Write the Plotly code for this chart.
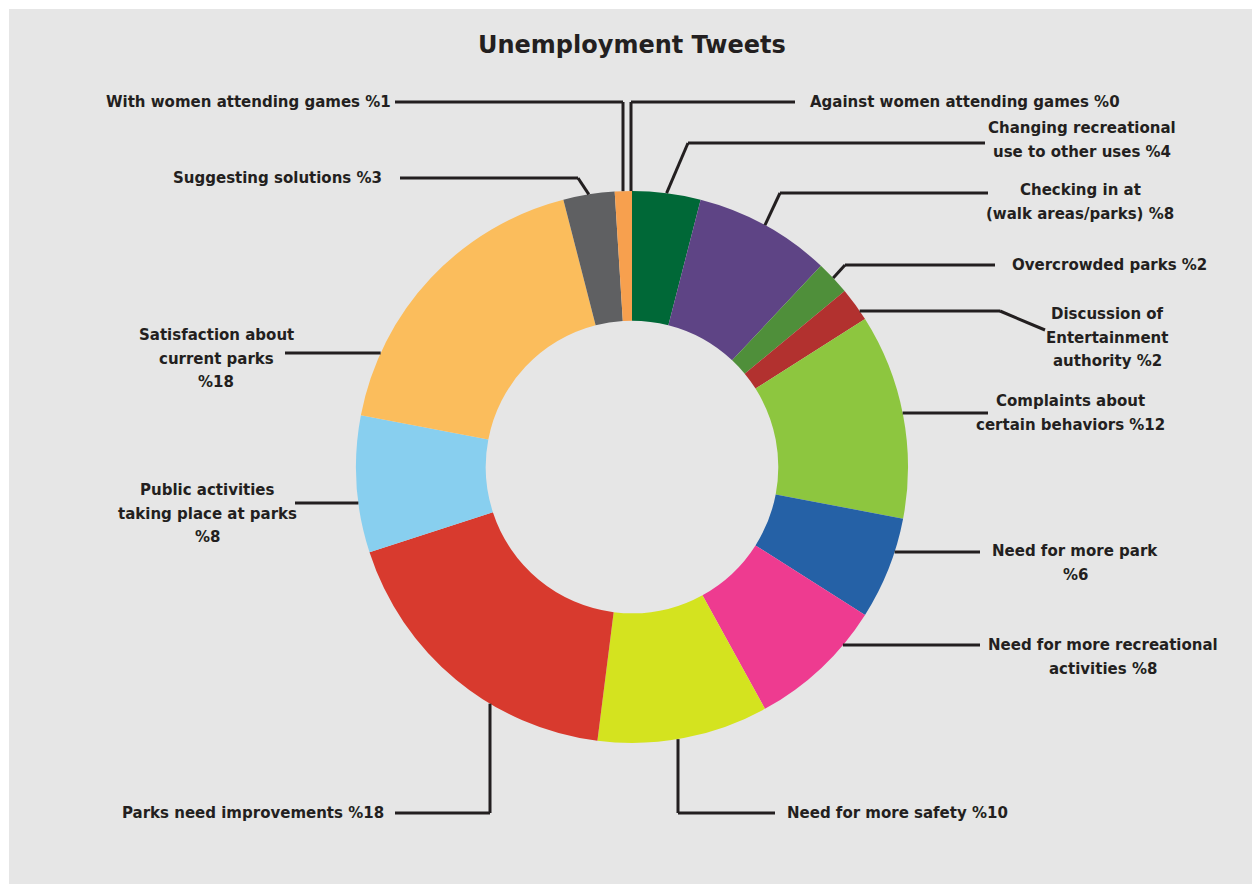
import math
import plotly.graph_objects as go

# ---------------- data ----------------
categories = [
    "Against women attending games",
    "Changing recreational<br>use to other uses",
    "Checking in at<br>(walk areas/parks)",
    "Overcrowded parks",
    "Discussion of<br>Entertainment<br>authority",
    "Complaints about<br>certain behaviors",
    "Need for more park<br>",
    "Need for more recreational<br>activities",
    "Need for more safety",
    "Parks need improvements",
    "Public activities<br>taking place at parks<br>",
    "Satisfaction about<br>current parks<br>",
    "Suggesting solutions",
    "With women attending games",
]
values = [0, 4, 8, 2, 2, 12, 6, 8, 10, 18, 8, 18, 3, 1]
colors = ["#006837", "#006837", "#5e4485", "#4f8f3a", "#b2312f", "#8dc63f",
          "#2561a6", "#ee3b90", "#d4e31f", "#d83a2e", "#88cfef", "#fbbd5c",
          "#5f6062", "#f7a04e"]

title_text = "Unemployment Tweets"

# ---------------- layout geometry (pixels) ----------------
W, H = 1252, 884
CX, CY, R = 632, 467, 276
HOLE = 0.53
INK = "#231f20"
BG = "#e6e6e6"
LINE_GAP = 23.5
FONT = "DejaVu Sans"


def px(x):
    return x / W


def py(y):
    return 1 - y / H


total = sum(values)
cum = 0
mid_angles = []
for v in values:
    mid_angles.append((cum + v / 2) / total * 360)
    cum += v


def mid_point(i):
    a = math.radians(mid_angles[i])
    return (CX + R * math.sin(a), CY - R * math.cos(a))


def circ_x(y, side):
    d = math.sqrt(max(R * R - (y - CY) ** 2, 0))
    return CX + side * d


def circ_y(x, side):
    d = math.sqrt(max(R * R - (x - CX) ** 2, 0))
    return CY + side * d


# label placement: text x, first-line y, anchor, leader points after the pie anchor
placements = {
    0: dict(tx=808, ty=102, xa="left", anchor=("v", 631, -1), pts=[(631, 102), (795, 102)]),
    1: dict(tx=1082, ty=128, xa="center", anchor=("mid",), pts=[(688, 143), (985, 143)]),
    2: dict(tx=1080, ty=190, xa="center", anchor=("mid",), pts=[(780, 193), (988, 193)]),
    3: dict(tx=1010, ty=265, xa="left", anchor=("mid",), pts=[(845, 265), (995, 265)]),
    4: dict(tx=1107, ty=314, xa="center", anchor=("h", 311, 1), pts=[(1000, 311), (1045, 330)]),
    5: dict(tx=1070, ty=401, xa="center", anchor=("h", 413, 1), pts=[(988, 413)]),
    6: dict(tx=1075, ty=551, xa="center", anchor=("h", 552, 1), pts=[(980, 552)]),
    7: dict(tx=1103, ty=645, xa="center", anchor=("h", 645, 1), pts=[(980, 645)]),
    8: dict(tx=785, ty=813, xa="left", anchor=("v", 678, 1), pts=[(678, 813), (775, 813)]),
    9: dict(tx=386, ty=813, xa="right", anchor=("v", 490, 1), pts=[(490, 813), (395, 813)]),
    10: dict(tx=207, ty=490, xa="center", anchor=("h", 503, -1), pts=[(295, 503)]),
    11: dict(tx=216, ty=335, xa="center", anchor=("h", 353, -1), pts=[(285, 353)]),
    12: dict(tx=384, ty=178, xa="right", anchor=("mid",), pts=[(578, 178), (400, 178)]),
    13: dict(tx=393, ty=102, xa="right", anchor=("v", 623, -1), pts=[(623, 102), (395, 102)]),
}

fig = go.Figure()
fig.add_trace(go.Pie(
    labels=[c.replace("<br>", " ").strip() for c in categories],
    values=values,
    sort=False,
    direction="clockwise",
    rotation=0,
    hole=HOLE,
    textinfo="none",
    hoverinfo="label+percent",
    marker=dict(colors=colors, line=dict(width=0)),
    showlegend=False,
    domain=dict(x=[px(CX - R), px(CX + R)], y=[py(CY + R), py(CY - R)]),
))

shapes = [dict(type="rect", xref="paper", yref="paper",
               x0=px(9), x1=1, y0=0, y1=py(9),
               fillcolor=BG, line=dict(width=0), layer="below")]
annotations = [dict(text="<b>%s</b>" % title_text, x=px(CX), y=py(45), xref="paper", yref="paper",
                    xanchor="center", yanchor="middle", showarrow=False,
                    font=dict(family=FONT, size=24, color=INK))]

for i, p in placements.items():
    kind = p["anchor"]
    if kind[0] == "mid":
        start = mid_point(i)
    elif kind[0] == "h":
        start = (circ_x(kind[1], kind[2]), kind[1])
    else:
        start = (kind[1], circ_y(kind[1], kind[2]))
    pts = [start] + p["pts"]
    for (x0, y0), (x1, y1) in zip(pts[:-1], pts[1:]):
        shapes.append(dict(type="line", xref="paper", yref="paper",
                           x0=px(x0), y0=py(y0), x1=px(x1), y1=py(y1),
                           line=dict(color=INK, width=3)))
    full = "%s %%%d" % (categories[i], values[i])
    lines = [s.strip() for s in full.split("<br>")]
    for k, line in enumerate(lines):
        annotations.append(dict(text="<b>%s</b>" % line, x=px(p["tx"]), y=py(p["ty"] + k * LINE_GAP),
                                xref="paper", yref="paper",
                                xanchor=p["xa"], yanchor="middle", align="center", showarrow=False,
                                font=dict(family=FONT, size=15, color=INK)))

fig.update_layout(
    width=W, height=H,
    margin=dict(l=0, r=0, t=0, b=0),
    paper_bgcolor="white",
    plot_bgcolor=BG,
    shapes=shapes,
    annotations=annotations,
)

fig.write_html("out.html")
